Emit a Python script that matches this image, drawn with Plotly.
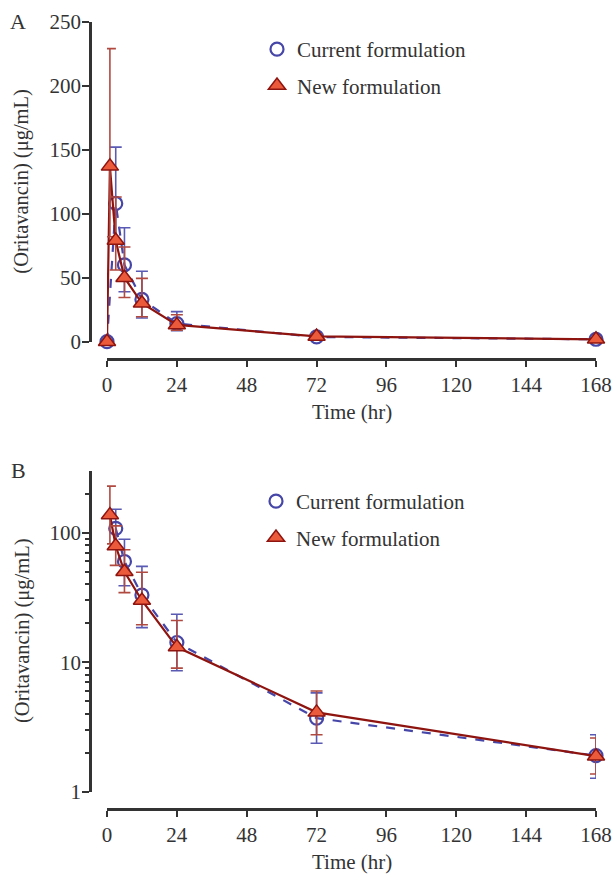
import plotly.graph_objects as go

# ---- data ----
time_current = [0, 3, 6, 12, 24, 72, 168]
conc_current = [0, 108, 60, 33, 14.2, 3.7, 1.9]
upper_current = [0, 152, 89, 55, 23.5, 5.8, 2.75]
lower_current = [0, 78, 39, 18.5, 8.6, 2.37, 1.27]

time_new = [0, 1, 3, 6, 12, 24, 72, 168]
conc_new = [0, 137, 79, 50, 30, 13.1, 4.1, 1.88]
upper_new = [0, 229, 113, 74, 49.5, 21, 6.0, 2.6]
lower_new = [0, 82, 56, 34.5, 19.5, 9.0, 2.75, 1.37]

x_ticks = [0, 24, 48, 72, 96, 120, 144, 168]
y_ticks_lin = [0, 50, 100, 150, 200, 250]
y_ticks_log = [1, 10, 100]
y_minor_log = [2, 3, 4, 5, 6, 7, 8, 9, 20, 30, 40, 50, 60, 70, 80, 90, 200]

W, H = 613, 878
FONT = "Liberation Serif"
TXT = "#333333"
BLUE = "#4646a8"
BLUE_ERR = "#5a5ab4"
RED_LINE = "#8e1410"
RED_FILL = "#ec5a3c"
RED_ERR = "#b04a40"


def px_x(p):
    return p / W


def px_y(p):
    return 1 - p / H


def err(vals, hi, lo):
    plus = [h - v for v, h in zip(vals, hi)]
    minus = [v - l for v, l in zip(vals, lo)]
    return plus, minus


fig = go.Figure()


def add_panel(xa, ya, legend, log):
    if log:
        tc, cc, uc, lc = time_current[1:], conc_current[1:], upper_current[1:], lower_current[1:]
        tn, cn, un, ln = time_new[1:], conc_new[1:], upper_new[1:], lower_new[1:]
    else:
        tc, cc, uc, lc = time_current, conc_current, upper_current, lower_current
        tn, cn, un, ln = time_new, conc_new, upper_new, lower_new
    pc, mc = err(cc, uc, lc)
    pn, mn = err(cn, un, ln)
    fig.add_trace(go.Scatter(x=tc, y=cc, mode="lines", xaxis=xa, yaxis=ya,
                             line=dict(color=BLUE, width=2.2, dash="dash"),
                             showlegend=False, hoverinfo="skip"))
    fig.add_trace(go.Scatter(x=tc, y=cc, mode="markers", xaxis=xa, yaxis=ya,
                             name="Current formulation", legend=legend, legendgroup="c" + legend,
                             marker=dict(symbol="circle-open", size=13, color=BLUE,
                                         line=dict(width=2.2, color=BLUE)),
                             error_y=dict(type="data", array=pc, arrayminus=mc, symmetric=False,
                                          color=BLUE_ERR, thickness=1.6, width=6),
                             cliponaxis=False))
    fig.add_trace(go.Scatter(x=tn, y=cn, mode="lines", xaxis=xa, yaxis=ya,
                             line=dict(color=RED_LINE, width=2.2),
                             showlegend=False, hoverinfo="skip"))
    fig.add_trace(go.Scatter(x=tn, y=cn, mode="markers", xaxis=xa, yaxis=ya,
                             name="New formulation", legend=legend, legendgroup="n" + legend,
                             marker=dict(symbol="triangle-up", size=15, color=RED_FILL,
                                         line=dict(width=1.5, color=RED_LINE)),
                             error_y=dict(type="data", array=pn, arrayminus=mn, symmetric=False,
                                          color=RED_ERR, thickness=1.6, width=6),
                             cliponaxis=False))


add_panel("x", "y", "legend", False)
add_panel("x2", "y2", "legend2", True)

axis_common = dict(showline=True, linecolor=TXT, linewidth=2.5, ticks="outside",
                   tickcolor=TXT, tickwidth=2.2, showgrid=False, zeroline=False,
                   tickfont=dict(family=FONT, size=21, color=TXT), anchor="free",
                   automargin=False)

xdom = [px_x(107), px_x(596)]
fig.update_layout(
    width=W, height=H,
    margin=dict(l=0, r=0, t=0, b=0, pad=0, autoexpand=False),
    paper_bgcolor="white", plot_bgcolor="white",
    font=dict(family=FONT, size=20, color=TXT),
    xaxis=dict(axis_common, domain=xdom, range=[0, 168], tickvals=x_ticks,
               ticklen=6, position=px_y(359)),
    yaxis=dict(axis_common, domain=[px_y(341.7), px_y(21.7)], range=[0, 250],
               tickvals=y_ticks_lin, ticklen=7, position=px_x(90),
               ticklabelstandoff=-3),
    xaxis2=dict(axis_common, domain=xdom, range=[0, 168], tickvals=x_ticks,
                ticklen=6, position=px_y(809)),
    yaxis2=dict(axis_common, type="log", domain=[px_y(791.7), px_y(471)],
                range=[0, 2.477], tickvals=y_ticks_log, ticktext=[str(v) for v in y_ticks_log],
                ticklen=7, position=px_x(90), ticklabelstandoff=-3,
                minor=dict(ticks="outside", tickmode="array", tickvals=y_minor_log,
                           ticklen=4, tickwidth=1.8, tickcolor=TXT, showgrid=False)),
    legend=dict(x=px_x(257), y=px_y(29), xanchor="left", yanchor="top",
                bgcolor="rgba(0,0,0,0)", tracegroupgap=6,
                font=dict(family=FONT, size=21, color=TXT)),
    legend2=dict(x=px_x(256), y=px_y(481), xanchor="left", yanchor="top",
                 bgcolor="rgba(0,0,0,0)", tracegroupgap=6,
                 font=dict(family=FONT, size=21, color=TXT)),
    showlegend=True,
)

ann = [
    dict(text="A", x=px_x(18), y=px_y(22), size=22),
    dict(text="B", x=px_x(18), y=px_y(470), size=22),
    dict(text="(Oritavancin) (μg/mL)", x=px_x(22), y=px_y(181.7), textangle=-90, size=20.5),
    dict(text="(Oritavancin) (μg/mL)", x=px_x(22), y=px_y(631), textangle=-90, size=20.5),
    dict(text="Time (hr)", x=px_x(351.5), y=px_y(412), size=21),
    dict(text="Time (hr)", x=px_x(351.5), y=px_y(862), size=21),
]
for a in ann:
    fig.add_annotation(xref="paper", yref="paper", showarrow=False,
                       xanchor="center", yanchor="middle",
                       font=dict(family=FONT, size=a["size"], color=TXT),
                       text=a["text"], x=a["x"], y=a["y"], textangle=a.get("textangle", 0))

# remove the default page margin so the 613x878 figure fills the window exactly
fig.write_html("out.html",
               config={"displayModeBar": False},
               post_script="document.body.style.margin='0';document.body.style.overflow='hidden';")
